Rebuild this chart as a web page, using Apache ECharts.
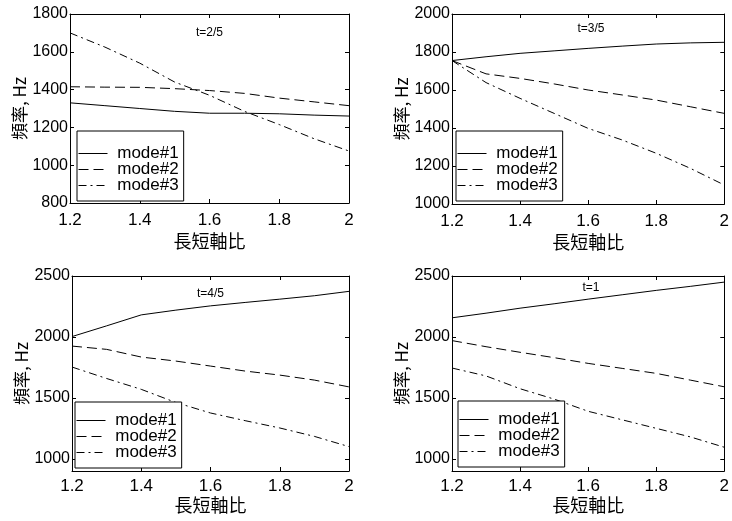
<!DOCTYPE html>
<html>
<head>
<meta charset="utf-8">
<script src="https://cdn.jsdelivr.net/npm/echarts@6/dist/echarts.min.js"></script>
<style>
  html, body { margin: 0; padding: 0; background: #fff; }
  #chart { width: 732px; height: 521px; }
</style>
</head>
<body>
<div id="chart"></div>
<script>
// 長短軸比 (x)
const ratios = [1.2, 1.3, 1.4, 1.5, 1.6, 1.7, 1.8, 1.9, 2.0];
const xTicks = [1.2, 1.4, 1.6, 1.8, 2];
const modeNames = ['mode#1', 'mode#2', 'mode#3'];
const panelTitles = ['t=2/5', 't=3/5', 't=4/5', 't=1'];

// 頻率, Hz — t=2/5
const t25Mode1 = [1330, 1315, 1300, 1285, 1275, 1275, 1272, 1265, 1260];
const t25Mode2 = [1415, 1413, 1412, 1405, 1395, 1380, 1355, 1335, 1315];
const t25Mode3 = [1700, 1625, 1540, 1440, 1370, 1285, 1215, 1140, 1075];
// t=3/5
const t35Mode1 = [1755, 1775, 1793, 1806, 1819, 1831, 1842, 1848, 1851];
const t35Mode2 = [1755, 1685, 1661, 1632, 1600, 1574, 1547, 1512, 1477];
const t35Mode3 = [1755, 1639, 1556, 1477, 1398, 1337, 1267, 1188, 1100];
// t=4/5
const t45Mode1 = [2003, 2091, 2181, 2220, 2255, 2283, 2310, 2338, 2374];
const t45Mode2 = [1925, 1898, 1835, 1802, 1761, 1720, 1687, 1646, 1590];
const t45Mode3 = [1753, 1659, 1570, 1462, 1376, 1313, 1253, 1184, 1100];
// t=1
const t1Mode1 = [2157, 2195, 2236, 2272, 2310, 2346, 2382, 2415, 2450];
const t1Mode2 = [1970, 1920, 1874, 1830, 1783, 1742, 1701, 1646, 1591];
const t1Mode3 = [1745, 1680, 1575, 1490, 1390, 1320, 1250, 1180, 1095];

// y 軸刻度
const yTicksA = [800, 1000, 1200, 1400, 1600, 1800];
const yTicksB = [1000, 1200, 1400, 1600, 1800, 2000];
const yTicksC = [1000, 1500, 2000, 2500];
const yRanges = [[800, 1800], [1000, 2000], [900, 2500], [900, 2500]];

const panelData = [
  [t25Mode1, t25Mode2, t25Mode3],
  [t35Mode1, t35Mode2, t35Mode3],
  [t45Mode1, t45Mode2, t45Mode3],
  [t1Mode1, t1Mode2, t1Mode3],
];
const panelYTicks = [yTicksA, yTicksB, yTicksC, yTicksC];

// 版面配置
const layout = [
  { grid: { left: 70, top: 14, width: 279, height: 189 }, titleY: 33, legend: { left: 77, top: 131, padTop: 14 }, xNameGap: 29, labelMargin: 9 },
  { grid: { left: 452, top: 14, width: 278, height: 190 }, titleY: 29, legend: { left: 456, top: 131, padTop: 14 }, xNameGap: 29, labelMargin: 9 },
  { grid: { left: 72, top: 276, width: 277, height: 195 }, titleY: 294, legend: { left: 75, top: 402, padTop: 10 }, xNameGap: 24, labelMargin: 7 },
  { grid: { left: 452, top: 276, width: 278, height: 195 }, titleY: 288, legend: { left: 458, top: 401, padTop: 10 }, xNameGap: 22, labelMargin: 7 },
];

const lineTypes = ['solid', [10, 5], [8, 4, 2, 4]];
const black = '#000';
const cjkFont = '"Noto Sans CJK TC", "Noto Sans CJK JP", sans-serif';
const latinFont = '"Liberation Sans", Arial, sans-serif';

const tickStyle = { inside: true, length: 4, lineStyle: { color: black, width: 1 } };
const lineAxis = { lineStyle: { color: black, width: 1 } };

const grids = [], xAxes = [], yAxes = [], series = [], legends = [], graphics = [];

layout.forEach((cfg, i) => {
  grids.push(Object.assign({ containLabel: false }, cfg.grid));

  // 下方 x 軸
  xAxes.push({
    type: 'value', gridIndex: i, position: 'bottom',
    min: 1.2, max: 2,
    name: '長短軸比', nameLocation: 'middle', nameGap: cfg.xNameGap,
    nameTextStyle: { fontFamily: cjkFont, fontSize: 18, color: black },
    axisLine: lineAxis,
    axisTick: Object.assign({ customValues: xTicks }, tickStyle),
    axisLabel: { customValues: xTicks, margin: cfg.labelMargin, color: black, fontFamily: latinFont, fontSize: 17 },
    splitLine: { show: false },
  });
  // 上方 x 軸（只有刻度）
  xAxes.push({
    type: 'value', gridIndex: i, position: 'top',
    min: 1.2, max: 2,
    axisLine: lineAxis,
    axisTick: Object.assign({ customValues: xTicks }, tickStyle),
    axisLabel: { show: false },
    splitLine: { show: false },
  });
  // 左 y 軸
  yAxes.push({
    type: 'value', gridIndex: i, position: 'left',
    min: yRanges[i][0], max: yRanges[i][1],
    name: '頻率, Hz', nameLocation: 'middle', nameGap: 39,
    nameTextStyle: { fontFamily: cjkFont, fontSize: 17, color: black },
    axisLine: lineAxis,
    axisTick: Object.assign({ customValues: panelYTicks[i] }, tickStyle),
    axisLabel: {
      customValues: panelYTicks[i], margin: 2, color: black,
      fontFamily: latinFont, fontSize: 16,
      formatter: (v) => String(v),
    },
    splitLine: { show: false },
  });
  // 右 y 軸（只有刻度）
  yAxes.push({
    type: 'value', gridIndex: i, position: 'right',
    min: yRanges[i][0], max: yRanges[i][1],
    axisLine: lineAxis,
    axisTick: Object.assign({ customValues: panelYTicks[i] }, tickStyle),
    axisLabel: { show: false },
    splitLine: { show: false },
  });

  panelData[i].forEach((values, m) => {
    series.push({
      name: modeNames[m],
      type: 'line',
      xAxisIndex: i * 2,
      yAxisIndex: i * 2,
      data: ratios.map((r, k) => [r, values[k]]),
      symbol: 'none',
      silent: true,
      itemStyle: { color: black },
      lineStyle: { color: black, width: 1, type: lineTypes[m] },
      z: 2,
    });
  });

  legends.push({
    left: cfg.legend.left, top: cfg.legend.top,
    orient: 'vertical',
    data: modeNames.map((n, m) => ({
      name: n,
      itemStyle: { opacity: 0 },
      lineStyle: { color: black, width: 1, type: lineTypes[m] },
    })),
    selectedMode: false,
    backgroundColor: '#fff',
    borderColor: black, borderWidth: 1, borderRadius: 0,
    padding: [cfg.legend.padTop, 5, 7, 1],
    itemWidth: 29, itemHeight: 14, itemGap: -1,
    formatter: (name) => ' ' + name,
    textStyle: { color: black, fontFamily: latinFont, fontSize: 17, lineHeight: 15 },
  });

  graphics.push({
    type: 'text',
    x: cfg.grid.left + cfg.grid.width / 2,
    y: cfg.titleY,
    style: {
      text: panelTitles[i],
      fill: black,
      font: '12px "Liberation Sans", Arial, sans-serif',
      textAlign: 'center',
      textVerticalAlign: 'middle',
    },
    z: 10,
  });
});

const chart = echarts.init(document.getElementById('chart'));
chart.setOption({
  backgroundColor: '#fff',
  animation: false,
  grid: grids,
  xAxis: xAxes,
  yAxis: yAxes,
  legend: legends,
  series: series,
  graphic: graphics,
});
</script>
</body>
</html>
